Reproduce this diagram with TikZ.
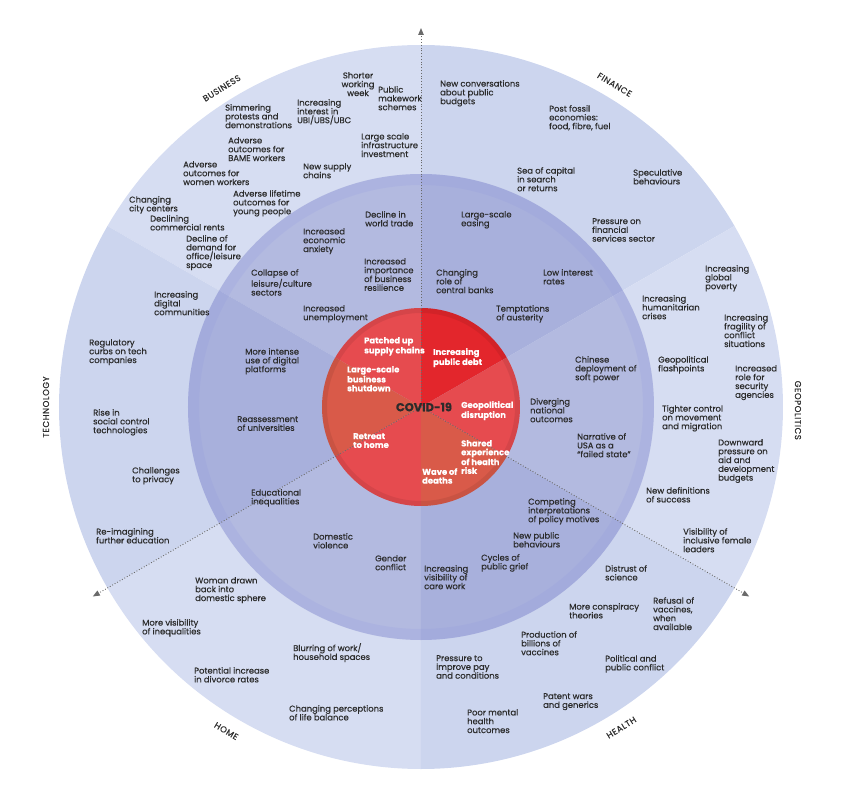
\documentclass[tikz,border=0pt]{standalone}
\usepackage{fontspec}
\setmainfont{Poppins}[FakeBold=0.45]
\newfontfamily\capsfont{Poppins}[LetterSpace=6, FakeBold=0.2]
\usetikzlibrary{arrows.meta}

\definecolor{ink}{HTML}{2B2B2B}
\definecolor{outerA}{HTML}{D6DDF2}
\definecolor{outerB}{HTML}{CCD5EE}
\definecolor{midA}{HTML}{B3BAE0}
\definecolor{midB}{HTML}{A8B0DC}
\definecolor{redFin}{HTML}{E3262C}
\definecolor{redPink}{HTML}{E64B4F}
\definecolor{redOrange}{HTML}{D95A49}
\definecolor{axisgray}{HTML}{6A6A6A}

\tikzset{
  item/.style={align=left, anchor=north west, inner sep=0pt, text=ink,
    font=\fontsize{8.4}{8.8}\selectfont},
  hotitem/.style={item, text=white, font=\fontsize{8.4}{8.8}\selectfont\bfseries},
  sector/.style={text=ink, inner sep=0pt, font=\capsfont\fontsize{8.6}{9}\selectfont},
  axis/.style={axisgray, line width=0.9pt, dash pattern=on 0.9pt off 1.9pt,
    -{Triangle[length=7pt,width=5.5pt]}}
}

\begin{document}
\begin{tikzpicture}[x=1pt,y=1pt]
\useasboundingbox (-421,-388) rectangle (444,407);

\coordinate (hub) at (0,0);
\coordinate (tipN) at (90:379);
\coordinate (tipSW) at (210:379);
\coordinate (tipSE) at (330:379);

\fill[outerB] (hub) -- (30:362pt) arc[start angle=30, end angle=90, radius=362pt] -- cycle;
\fill[outerA] (hub) -- (90:362pt) arc[start angle=90, end angle=150, radius=362pt] -- cycle;
\fill[outerB] (hub) -- (150:362pt) arc[start angle=150, end angle=210, radius=362pt] -- cycle;
\fill[outerA] (hub) -- (210:362pt) arc[start angle=210, end angle=270, radius=362pt] -- cycle;
\fill[outerB] (hub) -- (270:362pt) arc[start angle=270, end angle=330, radius=362pt] -- cycle;
\fill[outerA] (hub) -- (330:362pt) arc[start angle=330, end angle=390, radius=362pt] -- cycle;

\fill[midB] (hub) -- (30:233pt) arc[start angle=30, end angle=90, radius=233pt] -- cycle;
\fill[midA] (hub) -- (90:233pt) arc[start angle=90, end angle=150, radius=233pt] -- cycle;
\fill[midB] (hub) -- (150:233pt) arc[start angle=150, end angle=210, radius=233pt] -- cycle;
\fill[midA] (hub) -- (210:233pt) arc[start angle=210, end angle=270, radius=233pt] -- cycle;
\fill[midB] (hub) -- (270:233pt) arc[start angle=270, end angle=330, radius=233pt] -- cycle;
\fill[midA] (hub) -- (330:233pt) arc[start angle=330, end angle=390, radius=233pt] -- cycle;
\draw[midB!80!blue, opacity=0.14, line width=11pt] (hub) circle[radius=227.5pt];

\fill[redFin] (hub) -- (30:99pt) arc[start angle=30, end angle=90, radius=99pt] -- cycle;
\fill[redPink] (hub) -- (90:99pt) arc[start angle=90, end angle=150, radius=99pt] -- cycle;
\fill[redOrange] (hub) -- (150:99pt) arc[start angle=150, end angle=210, radius=99pt] -- cycle;
\fill[redPink] (hub) -- (210:99pt) arc[start angle=210, end angle=270, radius=99pt] -- cycle;
\fill[redOrange] (hub) -- (270:99pt) arc[start angle=270, end angle=330, radius=99pt] -- cycle;
\fill[redPink] (hub) -- (330:99pt) arc[start angle=330, end angle=390, radius=99pt] -- cycle;
\draw[black, opacity=0.07, line width=5pt] (hub) circle[radius=96.5pt];

\draw[axis] (hub) -- (tipN);
\draw[axis] (hub) -- (tipSW);
\draw[axis] (hub) -- (tipSE);

\node (business) [sector, rotate=32] at (122:376) {BUSINESS};
\node (finance) [sector, rotate=-31] at (59:376) {FINANCE};
\node (geopolitics) [sector, rotate=-90] at (-0.5:377) {GEOPOLITICS};
\node (health) [sector, rotate=32] at (-58:378) {HEALTH};
\node (home) [sector, rotate=-31] at (-121:378) {HOME};
\node (technology) [sector, rotate=90] at (180:375) {TECHNOLOGY};

\node (shorter) [item, align=center, anchor=north] at (-63,335) {Shorter\\working\\week};
\node (makework) [item] at (-43,321) {Public\\makework\\schemes};
\node (ubi) [item] at (-124,308) {Increasing\\interest in\\UBI/UBS/UBC};
\node (protests) [item] at (-196,303) {Simmering\\protests and\\demonstrations};
\node (infra) [item] at (-60,274) {Large scale\\infrastructure\\investment};
\node (bame) [item] at (-193,270) {Adverse\\outcomes for\\BAME workers};
\node (supply) [item] at (-118,244) {New supply\\chains};
\node (women) [item] at (-238,246) {Adverse\\outcomes for\\women workers};
\node (young) [item] at (-188,217) {Adverse lifetime\\outcomes for\\young people};
\node (city) [item] at (-292,211) {Changing\\city centers};
\node (rents) [item] at (-271,192) {Declining\\commercial rents};
\node (office) [item] at (-235,172) {Decline of\\demand for\\office/leisure\\space};
\node (trade) [item] at (-56,196) {Decline in\\world trade};
\node (anxiety) [item] at (-118,179) {Increased\\economic\\anxiety};
\node (resilience) [item] at (-57,149) {Increased\\importance\\of business\\resilience};
\node (collapse) [item] at (-170,138) {Collapse of\\leisure/culture\\sectors};
\node (unemploy) [item] at (-118,102) {Increased\\unemployment};

\node (budgets) [item] at (19,327) {New conversations\\about public\\budgets};
\node (fossil) [item] at (128,302) {Post fossil\\economies:\\food, fibre, fuel};
\node (capital) [item] at (96,240) {Sea of capital\\in search\\or returns};
\node (speculative) [item] at (212,238) {Speculative\\behaviours};
\node (finsector) [item] at (171,189) {Pressure on\\financial\\services sector};
\node (easing) [item] at (40,196) {Large-scale\\easing};
\node (central) [item] at (15,138) {Changing\\role of\\central banks};
\node (rates) [item] at (122,138) {Low interest\\rates};
\node (austerity) [item] at (75,102) {Temptations\\of austerity};

\node (poverty) [item] at (284,142) {Increasing\\global\\poverty};
\node (crises) [item] at (221,112) {Increasing\\humanitarian\\crises};
\node (fragility) [item] at (303,93) {Increasing\\fragility of\\conflict\\situations};
\node (flash) [item] at (237,51) {Geopolitical\\flashpoints};
\node (security) [item] at (314,42) {Increased\\role for\\security\\agencies};
\node (migration) [item] at (241,2) {Tighter control\\on movement\\and migration};
\node (aid) [item] at (297,-32) {Downward\\pressure on\\aid and\\development\\budgets};
\node (success) [item] at (225,-80) {New definitions\\of success};
\node (leaders) [item] at (262,-121) {Visibility of\\inclusive female\\leaders};
\node (softpower) [item] at (154,51) {Chinese\\deployment of\\soft power};
\node (diverging) [item] at (109,9) {Diverging\\national\\outcomes};
\node (usa) [item] at (156,-26) {Narrative of\\USA as a\\“failed state”};

\node (competing) [item] at (107,-91) {Competing\\interpretations\\of policy motives};
\node (behaviours) [item] at (92,-125) {New public\\behaviours};
\node (grief) [item] at (60,-147) {Cycles of\\public grief};
\node (carework) [item] at (3,-158) {Increasing\\visibility of\\care work};
\node (distrust) [item] at (184,-158) {Distrust of\\science};
\node (conspiracy) [item] at (148,-196) {More conspiracy\\theories};
\node (refusal) [item] at (232,-190) {Refusal of\\vaccines,\\when\\available};
\node (vaccines) [item] at (100,-224) {Production of\\billions of\\vaccines};
\node (pay) [item] at (15,-248) {Pressure to\\improve pay\\and conditions};
\node (conflict) [item] at (184,-248) {Political and\\public conflict};
\node (patent) [item] at (122,-286) {Patent wars\\and generics};
\node (mental) [item] at (46,-302) {Poor mental\\health\\outcomes};

\node (educ) [item] at (-170,-82) {Educational\\inequalities};
\node (violence) [item] at (-108,-126) {Domestic\\violence};
\node (gender) [item] at (-46,-148) {Gender\\conflict};
\node (woman) [item] at (-226,-170) {Woman drawn\\back into\\domestic sphere};
\node (inequal) [item] at (-279,-212) {More visibility\\of inequalities};
\node (blurring) [item] at (-128,-236) {Blurring of work/\\household spaces};
\node (divorce) [item] at (-227,-260) {Potential increase\\in divorce rates};
\node (balance) [item] at (-132,-298) {Changing perceptions\\of life balance};

\node (platforms) [item] at (-176,59) {More intense\\use of digital\\platforms};
\node (univ) [item] at (-184,-9) {Reassessment\\of universities};
\node (digital) [item] at (-267,116) {Increasing\\digital\\communities};
\node (curbs) [item] at (-332,68) {Regulatory\\curbs on tech\\companies};
\node (socialctl) [item] at (-328,-2) {Rise in\\social control\\technologies};
\node (privacy) [item] at (-289,-60) {Challenges\\to privacy};
\node (further) [item] at (-325,-121) {Re-imagining\\further education};

\node (patched) [hotitem] at (-57,70) {Patched up\\supply chains};
\node (debt) [hotitem] at (12,59) {Increasing\\public debt};
\node (shutdown) [hotitem] at (-74,41) {Large-scale\\business\\shutdown};
\node (covid) [text=ink, font=\fontsize{11.5}{12}\selectfont\bfseries] at (3,0) {COVID-19};
\node (disruption) [hotitem] at (40,6) {Geopolitical\\disruption};
\node (retreat) [hotitem] at (-68,-26) {Retreat\\to home};
\node (shared) [hotitem] at (40,-33) {Shared\\experience\\of health\\risk};
\node (deaths) [hotitem] at (1,-61) {Wave of\\deaths};
\end{tikzpicture}
\end{document}
